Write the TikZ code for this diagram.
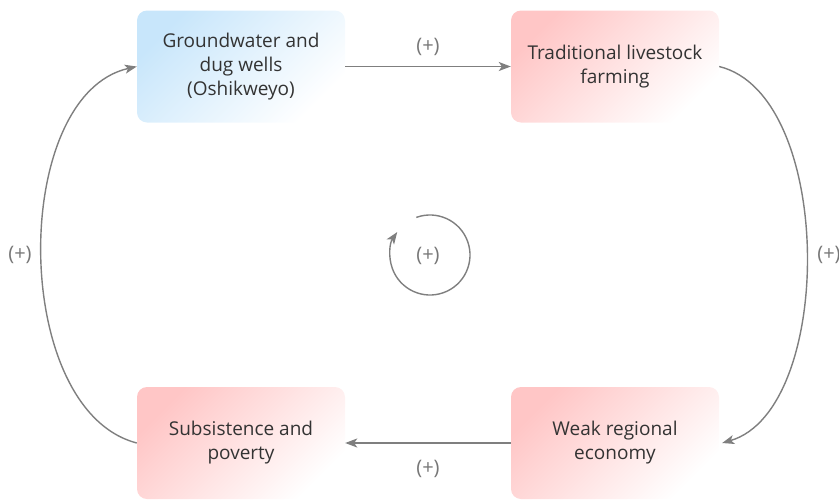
\documentclass[tikz,border=0pt]{standalone}
\usepackage{fontspec}
\setmainfont{Open Sans}
\usetikzlibrary{arrows.meta}
\definecolor{linegray}{HTML}{7F7F7F}
\definecolor{labelgray}{HTML}{777777}
\definecolor{textdark}{HTML}{333333}
\definecolor{bluefill}{HTML}{C8E6FB}
\definecolor{redfill}{HTML}{FFC6C6}
\tikzset{
  x=1pt, y=-1pt,
  factor/.style={rounded corners=10pt, minimum width=208pt, minimum height=112pt,
    align=center, text=textdark, font=\fontsize{19}{24}\selectfont,
    top color=#1, bottom color=white, shading angle=45, inner sep=0pt},
  link/.style={draw=linegray, line width=1.4pt, -{Stealth[length=12pt, width=9pt, inset=3pt]}},
  sign/.style={text=labelgray, font=\fontsize{20}{22}\selectfont},
}
\begin{document}
\begin{tikzpicture}
\useasboundingbox (0,0) rectangle (839,499);
\node[factor=bluefill] (gw) at (241,66.5) {Groundwater and\\dug wells\\(Oshikweyo)};
\node[factor=redfill] (tl) at (615,66.5) {Traditional livestock\\farming};
\node[factor=redfill] (sp) at (241,443) {Subsistence and\\poverty};
\node[factor=redfill] (we) at (615,443) {Weak regional\\economy};
% the four causal links
\draw[link] (gw.east) -- (tl.west) node[sign, midway, above=7pt] {(+)};
\draw[link] (we.west) -- (sp.east) node[sign, midway, below=13pt] {(+)};
\draw[link] (tl.east) .. controls (835,95) and (835,410) .. ([xshift=3pt]we.east);
\draw[link] (sp.west) .. controls (10,410) and (10,95) .. (gw.west);
\node[sign] (rs) at (829,255) {(+)};
\node[sign] (ls) at (20,255) {(+)};
% reinforcing loop marker
\node[sign] (loop) at (428,256) {(+)};
\coordinate (c) at (430,255);
\draw[link] ([shift={(250:40)}]c) arc[start angle=250, end angle=575, radius=40];
\end{tikzpicture}
\end{document}
